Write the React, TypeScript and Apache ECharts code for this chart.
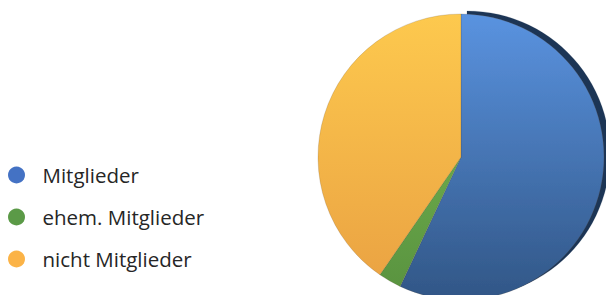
import React, { useEffect, useRef } from "react";
import * as echarts from "echarts";

const categories = ["Mitglieder", "ehem. Mitglieder", "nicht Mitglieder"];
const values = [57, 2.6, 40.4];
const topColors = ["#5a93e0", "#6aa84a", "#fdc94e"];
const bottomColors = ["#315686", "#5a9440", "#eba443"];
const legendColors = ["#4472c4", "#5b9a47", "#fbb347"];

export default function App() {
  const ref = useRef<HTMLDivElement>(null);
  useEffect(() => {
    const chart = echarts.init(ref.current!, null, { renderer: "svg" });
    chart.setOption({
      animation: false,
      backgroundColor: "#ffffff",
      legend: {
        orient: "vertical",
        left: 8,
        top: 163,
        icon: "circle",
        itemWidth: 18,
        itemHeight: 17,
        itemGap: 18,
        padding: 0,
        itemStyle: { borderWidth: 0 },
        data: categories.map((c, i) => ({ name: c, itemStyle: { color: legendColors[i], borderWidth: 0 } })),
        textStyle: {
          fontSize: 20.5,
          lineHeight: 24,
          color: "#262626",
          fontFamily: "Open Sans",
          padding: [0, 0, 0, 12],
        },
      },
      series: [
        {
          type: "pie",
          center: [461, 157],
          radius: 143,
          startAngle: 90,
          clockwise: true,
          label: { show: false },
          labelLine: { show: false },
          emphasis: { disabled: true },
          data: categories.map((c, i) => ({
            name: c,
            value: values[i],
            itemStyle: {
              color: new echarts.graphic.LinearGradient(0, 0, 0, 1, [
                { offset: 0, color: topColors[i] },
                { offset: 1, color: bottomColors[i] },
              ]),
              borderColor: "rgba(80,60,30,0.35)",
              borderWidth: 0.5,
              ...(i === 0
                ? { shadowColor: "#1e3554", shadowBlur: 0, shadowOffsetX: 6, shadowOffsetY: -3 }
                : {}),
            },
          })),
        },
      ],
    });
    return () => chart.dispose();
  }, []);
  return <div ref={ref} style={{ position: "fixed", left: 0, top: 0, width: 606, height: 295 }} />;
}
